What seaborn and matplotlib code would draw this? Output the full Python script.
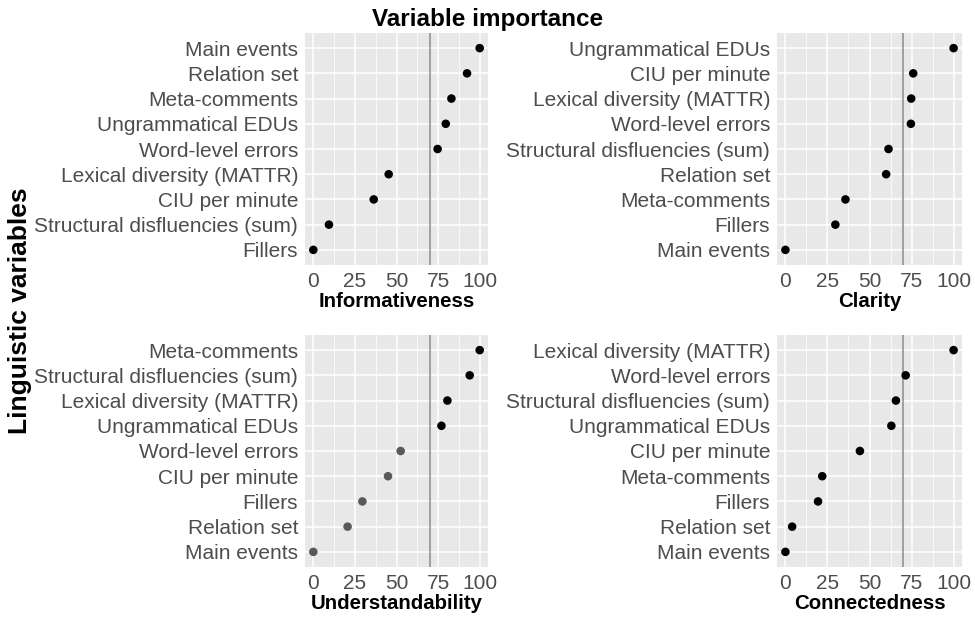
import matplotlib
matplotlib.use('Agg')
import matplotlib.pyplot as plt
import seaborn as sns
import pandas as pd

# values (variable importance, scaled 0-100)
info_vars = ['Main events', 'Relation set', 'Meta-comments', 'Ungrammatical EDUs',
             'Word-level errors', 'Lexical diversity (MATTR)', 'CIU per minute',
             'Structural disfluencies (sum)', 'Fillers']
info_vals = [100, 92.4, 83, 79.6, 74.7, 45.3, 36.3, 9.4, 0]

clar_vars = ['Ungrammatical EDUs', 'CIU per minute', 'Lexical diversity (MATTR)',
             'Word-level errors', 'Structural disfluencies (sum)', 'Relation set',
             'Meta-comments', 'Fillers', 'Main events']
clar_vals = [100, 76, 74.8, 74.6, 61.3, 59.9, 35.7, 29.7, 0]

under_vars = ['Meta-comments', 'Structural disfluencies (sum)', 'Lexical diversity (MATTR)',
              'Ungrammatical EDUs', 'Word-level errors', 'CIU per minute', 'Fillers',
              'Relation set', 'Main events']
under_vals = [100, 94, 80.6, 77, 52.5, 44.9, 29.5, 20.6, 0]
under_grey = [False, False, False, False, True, True, True, True, True]

conn_vars = ['Lexical diversity (MATTR)', 'Word-level errors', 'Structural disfluencies (sum)',
             'Ungrammatical EDUs', 'CIU per minute', 'Meta-comments', 'Fillers',
             'Relation set', 'Main events']
conn_vals = [100, 71.5, 65.7, 63, 44.3, 21.9, 19.4, 4, 0]

threshold = 70

sns.set_theme(style='darkgrid')
plt.rcParams['font.family'] = ['Liberation Sans', 'DejaVu Sans']

fig = plt.figure(figsize=(9.75, 6.21), dpi=100)
W, H = 975, 621

def make_ax(x0, y0, x1, y1):
    return fig.add_axes([x0 / W, 1 - y1 / H, (x1 - x0) / W, (y1 - y0) / H])

panels = [
    (make_ax(305, 33, 488, 265), info_vars, info_vals, None, 'Informativeness'),
    (make_ax(777, 33, 962, 265), clar_vars, clar_vals, None, 'Clarity'),
    (make_ax(305, 335, 488, 567), under_vars, under_vals, under_grey, 'Understandability'),
    (make_ax(777, 335, 962, 567), conn_vars, conn_vals, None, 'Connectedness'),
]

for ax, names, vals, grey, title in panels:
    df = pd.DataFrame({'var': names, 'imp': vals})
    if grey is None:
        df['grp'] = 'a'
    else:
        df['grp'] = ['b' if g else 'a' for g in grey]
    ax.set_facecolor('#E8E8E8')
    ax.axvline(threshold, color='#8C8C8C', lw=1.1, zorder=1)
    sns.scatterplot(data=df, x='imp', y='var', hue='grp',
                    palette={'a': 'black', 'b': '#595959'},
                    s=38, edgecolor='none', legend=False, ax=ax, zorder=3)
    ax.set_xlim(-5, 105)
    ax.set_ylim(len(names) - 0.4, -0.6)
    ax.set_xticks([0, 25, 50, 75, 100])
    ax.set_xticks([12.5, 37.5, 62.5, 87.5], minor=True)
    ax.grid(which='major', color='white', lw=1.1)
    ax.grid(which='minor', axis='x', color='white', lw=0.55)
    ax.set_axisbelow(True)
    for s in ax.spines.values():
        s.set_visible(False)
    ax.tick_params(axis='both', which='major', length=3, width=0.8, color='#333333',
                   labelsize=15, labelcolor='#4D4D4D', pad=2, direction='out')
    ax.tick_params(axis='both', which='minor', length=0)
    ax.set_xlabel(title, fontsize=14.7, fontweight='bold', color='black', labelpad=1)
    ax.set_ylabel('')

fig.text(0.5, 0.969, 'Variable importance', ha='center', va='center',
         fontsize=17.5, fontweight='bold', color='black')
fig.text(0.021, 0.5, 'Linguistic variables', ha='center', va='center',
         rotation=90, fontsize=19, fontweight='bold', color='black')

fig.savefig('out.png', dpi=100)
